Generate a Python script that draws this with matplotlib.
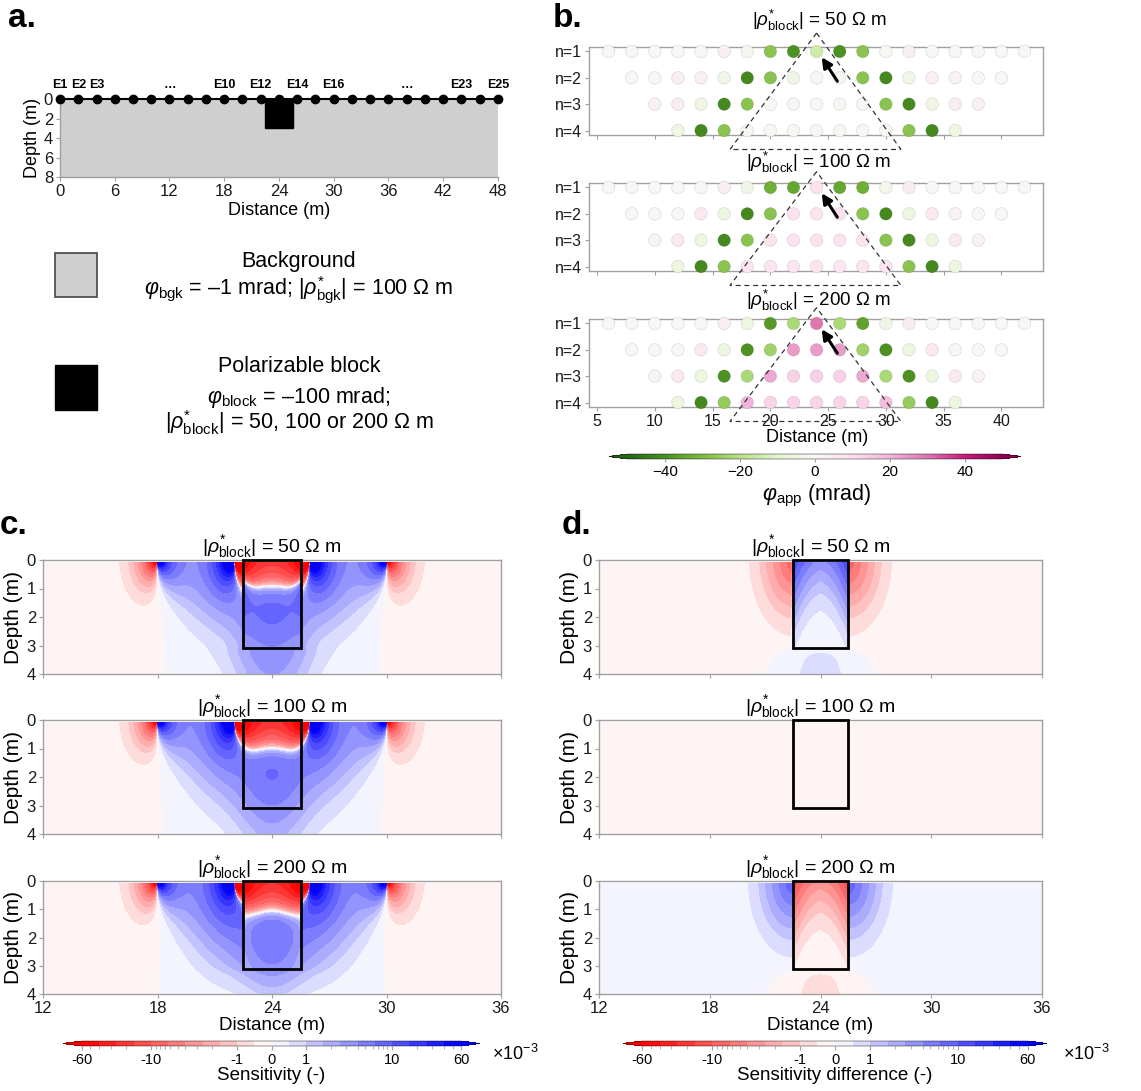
import numpy as np
import matplotlib
matplotlib.use("Agg")
import matplotlib.pyplot as plt
from matplotlib.patches import Rectangle, Polygon
from matplotlib.colors import Normalize, SymLogNorm
from matplotlib.cm import ScalarMappable

plt.rcParams['font.family'] = ['Liberation Sans', 'DejaVu Sans']
plt.rcParams['mathtext.fontset'] = 'custom'
plt.rcParams['mathtext.rm'] = 'Liberation Sans'
plt.rcParams['mathtext.it'] = 'Liberation Sans:italic'
plt.rcParams['mathtext.bf'] = 'Liberation Sans:bold'

W, H = 1141, 1091

# ---- panel a: survey geometry ----
electrode_x = np.arange(0, 49, 2)
electrode_labels = {0: "E1", 2: "E2", 4: "E3", 12: "…", 18: "E10", 22: "E12",
                    26: "E14", 30: "E16", 38: "…", 44: "E23", 48: "E25"}
block_x = (22.5, 25.5)
block_depth = 3.1
rho_bgk = 100
rho_block = [50, 100, 200]

# ---- panel b: apparent phase pseudosections (mrad) ----
pseudo_n = [1, 2, 3, 4]
pseudo_x = [list(range(6, 43, 2)), list(range(8, 41, 2)),
            list(range(10, 39, 2)), list(range(12, 37, 2))]
phase_50 = [
    [0, 0, 0, 0, 0, 4, -2, -28, -40, -15, -40, -28, -1, 4, 0, 0, 0, 0, 0],
    [0, 0, 4, 4, -4, -42, -28, -4, -1, -1, -28, -42, -4, 4, 2, 0, 0],
    [3, 5, -5, -42, -28, -1, -1, -1, -1, -1, -28, -42, -5, 5, 3],
    [-5, -42, -28, -1, -1, -1, -1, -1, -1, -1, -28, -42, -5],
]
phase_100 = [
    [0, 0, 0, 0, 0, 5, -4, -33, -35, 9, -35, -33, -3, 5, 0, 0, 0, 0, 0],
    [0, 0, 1, 6, -6, -42, -28, 9, 9, 9, -28, -42, -6, 6, 2, 0, 0],
    [2, 6, -6, -42, -28, 9, 9, 9, 9, 9, -28, -42, -6, 6, 2],
    [-6, -42, -28, 8, 8, 8, 8, 8, 8, 8, -28, -42, -6],
]
phase_200 = [
    [0, 0, 0, 0, 0, 5, -6, -38, -22, 30, -22, -36, -4, 5, 0, 0, 0, 0, 0],
    [0, 0, 1, 6, -6, -40, -24, 24, 24, 24, -24, -40, -6, 6, 1, 0, 0],
    [2, 6, -6, -40, -22, 22, 14, 14, 14, 22, -22, -40, -6, 6, 2],
    [-6, -42, -26, 20, 13, 13, 13, 13, 13, 18, -26, -42, -6],
]
phase_cases = [phase_50, phase_100, phase_200]

# ---- panels c/d: sensitivity of one dipole-dipole quadrupole ----
current_dipole = (18, 22)
potential_dipole = (26, 30)
sens_scale = 480.0          # plotted in units of 1e-3
center_bump = (7.6, 1.5, 0.95)   # amplitude, half-width (m), depth of peak (m)
sens_pos_levels = [0.5, 1, 1.58, 2.51, 3.98, 6.31, 10, 15.8, 25.1, 39.8, 60]
sens_ticks = [-60, -10, -1, 0, 1, 10, 60]
sens_minor = [-50, -40, -30, -20, -9, -8, -7, -6, -5, -4, -3, -2,
              2, 3, 4, 5, 6, 7, 8, 9, 20, 30, 40, 50]


def pair_term(xe1, xe2, X, Z):
    dx1 = X - xe1
    dx2 = X - xe2
    r1 = (dx1 ** 2 + Z ** 2) ** 1.5
    r2 = (dx2 ** 2 + Z ** 2) ** 1.5
    return (dx1 * dx2 + Z ** 2) / (r1 * r2)


def homogeneous_sensitivity(X, Z):
    a, b = current_dipole
    m, n = potential_dipole
    s = (pair_term(a, m, X, Z) - pair_term(a, n, X, Z)
         - pair_term(b, m, X, Z) + pair_term(b, n, X, Z))
    amp, wid, zp = center_bump
    xc = 0.5 * (b + m)
    bump = amp * np.exp(-((X - xc) / wid) ** 2) * (Z / zp) * np.exp(1 - Z / zp)
    return -sens_scale * s + bump


def block_perturbation(X, Z):
    xl, xr = block_x
    xc = 0.5 * (xl + xr)
    half = 0.5 * (xr - xl)
    inside = (X >= xl) & (X <= xr) & (Z <= block_depth)
    d_wall = np.clip(np.minimum(X - xl, xr - X), 0, None)
    p_in = 45 * np.exp(-Z / 0.9) * (0.2 + np.exp(-d_wall / 0.45))
    dx = np.clip(np.abs(X - xc) - half, 0, None)
    p_out = -30 * np.exp(-np.hypot(dx / 0.8, Z / 0.9))
    below = 2.5 * np.exp(-((X - xc) / 2.0) ** 2) / (1 + np.exp(-(Z - block_depth) / 0.08))
    return np.where(inside, p_in, p_out + below)


def px_axes(l, t, r, b):
    return fig.add_axes([l / W, 1 - b / H, (r - l) / W, (b - t) / H])


def style(ax, fs=11):
    for sp in ax.spines.values():
        sp.set_color('#a0a0a0')
        sp.set_linewidth(1.0)
    ax.tick_params(color='#a0a0a0', labelcolor='#1a1a1a', length=3, width=0.8,
                   labelsize=fs, pad=2)


def rho_title(r):
    return r"$|\rho^{*}_{\mathrm{block}}|$ = " + f"{r} Ω m"


fig = plt.figure(figsize=(W / 100, H / 100), dpi=100)
overlay = fig.add_axes([0, 0, 1, 1])
overlay.set_xlim(0, W)
overlay.set_ylim(H, 0)
overlay.axis('off')

for lab, x, y in [("a.", 8, 3), ("b.", 553, 3), ("c.", 0, 510), ("d.", 562, 510)]:
    overlay.text(x, y, lab, fontsize=24, fontweight='bold', va='top', ha='left')

# ---- panel a ----
bgk_color = '#d0cfd0'
ax_a = px_axes(60, 99, 498, 177)
ax_a.add_patch(Rectangle((0, 0), 48, 8, fc=bgk_color, ec='none'))
ax_a.add_patch(Rectangle((block_x[0], 0), block_x[1] - block_x[0], 3.0, fc='k', ec='k'))
ax_a.plot(electrode_x, np.zeros(len(electrode_x)), 'o', color='k', ms=6,
          clip_on=False, zorder=5)
for x, lab in electrode_labels.items():
    ax_a.annotate(lab, (x, 0), xytext=(0, 6), textcoords='offset points',
                  ha='center', va='bottom', fontsize=9, fontweight='bold')
ax_a.set_xlim(0, 48)
ax_a.set_ylim(8, 0)
ax_a.set_xticks(range(0, 49, 6))
ax_a.set_yticks(range(0, 9, 2))
style(ax_a, 12)
ax_a.spines['top'].set_color('k')
ax_a.spines['top'].set_linewidth(1.5)
ax_a.spines['right'].set_visible(False)
ax_a.set_xlabel("Distance (m)", fontsize=13, labelpad=2)
ax_a.set_ylabel("Depth (m)", fontsize=13, labelpad=2)

overlay.add_patch(Rectangle((55, 253), 42, 44, fc=bgk_color, ec='#444444', lw=1.2))
overlay.add_patch(Rectangle((55, 365), 42, 45, fc='k', ec='k'))
legend_fs = 15.5
overlay.text(299, 262, "Background", fontsize=legend_fs, ha='center', va='center')
overlay.text(299, 290, r"$\varphi_{\mathrm{bgk}}$ = –1 mrad; $|\rho^{*}_{\mathrm{bgk}}|$ = 100 Ω m",
             fontsize=legend_fs, ha='center', va='center')
overlay.text(299, 367, "Polarizable block", fontsize=legend_fs, ha='center', va='center')
overlay.text(299, 397, r"$\varphi_{\mathrm{block}}$ = –100 mrad;",
             fontsize=legend_fs, ha='center', va='center')
overlay.text(299, 423, r"$|\rho^{*}_{\mathrm{block}}|$ = 50, 100 or 200 Ω m",
             fontsize=legend_fs, ha='center', va='center')

# ---- panel b ----
phase_norm = Normalize(-50, 50)
phase_cmap = plt.get_cmap('PiYG_r')
b_rows = [(47, 135, 20), (183, 271, 162), (319, 407, 300)]
for k, (top, bot, ty) in enumerate(b_rows):
    ax = px_axes(589, top, 1043, bot)
    for n, xs, vals in zip(pseudo_n, pseudo_x, phase_cases[k]):
        ax.scatter(xs, [n] * len(xs), c=vals, cmap=phase_cmap, norm=phase_norm, s=82,
                   edgecolors=(0, 0, 0, 0.1), linewidths=0.6, zorder=3, clip_on=False)
    apex = 0.3 if k == 0 else 0.4
    ax.add_patch(Polygon([(24, apex), (16.5, 4.72), (31.3, 4.72)], closed=True, fill=False,
                         ec='#333333', lw=0.9, ls=(0, (4, 3)), clip_on=False, zorder=4))
    ax.annotate('', xy=(24.45, 1.22), xytext=(25.8, 2.13),
                arrowprops=dict(arrowstyle='-|>', color='k', lw=2.2, mutation_scale=15,
                                shrinkA=0, shrinkB=0), zorder=5)
    ax.set_xlim(4.3, 43.6)
    ax.set_ylim(4.17, 0.83)
    ax.set_yticks(pseudo_n)
    ax.set_yticklabels([f"n={n}" for n in pseudo_n])
    ax.set_xticks(range(5, 41, 5))
    style(ax, 11.5)
    if k < 2:
        ax.tick_params(labelbottom=False)
    overlay.text(819, ty, rho_title(rho_block[k]), fontsize=13.5, ha='center', va='center')
overlay.text(817, 438, "Distance (m)", fontsize=13, ha='center', va='center')

cax_b = px_axes(609, 454, 1021, 459)
cb_b = fig.colorbar(ScalarMappable(norm=phase_norm, cmap=phase_cmap), cax=cax_b,
                    orientation='horizontal', extend='both', ticks=[-40, -20, 0, 20, 40])
cb_b.outline.set_linewidth(0.3)
cb_b.ax.tick_params(labelsize=11, length=2, color='#a0a0a0', pad=2)
overlay.text(817, 496, r"$\varphi_{\mathrm{app}}$ (mrad)", fontsize=15.5, ha='center', va='center')

# ---- panels c and d ----
sens_levels = [-v for v in reversed(sens_pos_levels)] + [0.0] + sens_pos_levels
sens_norm = SymLogNorm(linthresh=1, linscale=0.36, vmin=-60, vmax=60, base=10)
sens_cmap = plt.get_cmap('bwr_r')

xg = np.linspace(12, 36, 481)
zg = np.linspace(0.08, 4, 197)
X, Z = np.meshgrid(xg, zg)
V0 = homogeneous_sensitivity(X, Z)
P = block_perturbation(X, Z)

cd_rows = [(560, 674), (720, 834), (881, 994)]
for k, rho in enumerate(rho_block):
    contrast = (rho_bgk - rho) / (rho_bgk + rho)
    diff = contrast * P
    fields = [V0 + diff, diff]
    top, bot = cd_rows[k]
    for j, (l, r) in enumerate([(43, 501), (599, 1042)]):
        ax = px_axes(l, top, r, bot)
        cf = ax.contourf(X, Z, fields[j], levels=sens_levels, cmap=sens_cmap,
                         norm=sens_norm, extend='both')
        ax.add_patch(Rectangle((block_x[0], 0), block_x[1] - block_x[0], block_depth,
                               fill=False, ec='k', lw=2, zorder=5, clip_on=False))
        ax.set_xlim(12, 36)
        ax.set_ylim(4, 0)
        ax.set_xticks(range(12, 37, 6))
        ax.set_yticks(range(0, 5))
        style(ax, 12)
        ax.set_ylabel("Depth (m)", fontsize=15, labelpad=3)
        if k < 2:
            ax.tick_params(labelbottom=False)
        else:
            ax.set_xlabel("Distance (m)", fontsize=13.5, labelpad=1)
        ax.set_title(rho_title(rho), fontsize=14, pad=5)
        if k == 2:
            if j == 0:
                cf_c = cf
            else:
                cf_d = cf

for cf, (l, r), lab, xt in [(cf_c, (63, 480), "Sensitivity (-)", 492),
                            (cf_d, (623, 1047), "Sensitivity difference (-)", 1063)]:
    cax = px_axes(l, 1041, r, 1046)
    cb = fig.colorbar(cf, cax=cax, orientation='horizontal')
    cb.set_ticks(sens_ticks, labels=[str(t) for t in sens_ticks])
    cb.set_ticks(sens_minor, minor=True)
    cb.outline.set_linewidth(0.3)
    cb.ax.tick_params(which='both', labelsize=10.5, color='#a0a0a0', pad=2)
    cb.ax.tick_params(which='major', length=3)
    cb.ax.tick_params(which='minor', length=2)
    overlay.text(xt, 1054, r"$\times10^{-3}$", fontsize=13, ha='left', va='center')
    overlay.text((l + r) / 2, 1076, lab, fontsize=13.5, ha='center', va='center')

fig.savefig("out.png", dpi=100)
